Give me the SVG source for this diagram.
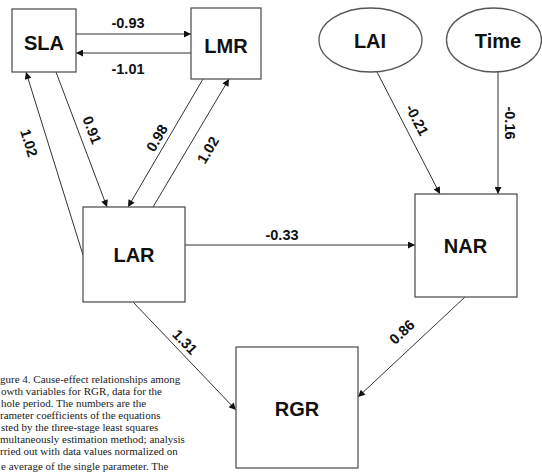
<svg xmlns="http://www.w3.org/2000/svg" width="542" height="472" viewBox="0 0 542 472">
<style>
.node{fill:#fff;stroke:#555;stroke-width:1.3}
.nl{font-family:"Liberation Sans",Arial,sans-serif;font-weight:bold;font-size:20px;fill:#111;text-anchor:middle}
.el{font-family:"Liberation Sans",Arial,sans-serif;font-weight:bold;font-size:14.5px;fill:#111;text-anchor:middle}
.edge{stroke:#333;stroke-width:1;fill:none;marker-end:url(#ah)}
.cap{font-family:"Liberation Serif","Times New Roman",serif;font-size:11px;fill:#222}
</style>
<defs>
<marker id="ah" viewBox="0 0 10 10" refX="10" refY="5" markerWidth="9" markerHeight="7" markerUnits="userSpaceOnUse" orient="auto">
<path d="M0,0 L10,5 L0,10 z" fill="#111"/>
</marker>
</defs>
<rect width="542" height="472" fill="#fff"/>
<g id="connectors">
<line class="edge" x1="76" y1="34" x2="191" y2="34"/>
<line class="edge" x1="191" y1="53" x2="76" y2="53"/>
<line class="edge" x1="83" y1="255" x2="26" y2="72"/>
<line class="edge" x1="56" y1="72" x2="107" y2="207"/>
<line class="edge" x1="203" y1="79" x2="128" y2="207"/>
<line class="edge" x1="153" y1="207" x2="229" y2="79"/>
<line class="edge" x1="377" y1="72" x2="440" y2="194"/>
<line class="edge" x1="498" y1="72" x2="498" y2="194"/>
<line class="edge" x1="185" y1="245" x2="415" y2="245"/>
<line class="edge" x1="133" y1="302" x2="236" y2="410"/>
<line class="edge" x1="465" y1="297" x2="358" y2="397"/>
<text class="el" x="128" y="28">-0.93</text>
<text class="el" x="128" y="74">-1.01</text>
<text class="el" x="282" y="240">-0.33</text>
<text class="el" transform="translate(29,143) rotate(72.7)" y="5">1.02</text>
<text class="el" transform="translate(92,130) rotate(69.3)" y="5">0.91</text>
<text class="el" transform="translate(157,138) rotate(-59.6)" y="5">0.98</text>
<text class="el" transform="translate(208,150) rotate(-59.3)" y="5">1.02</text>
<text class="el" transform="translate(417,120) rotate(62.5)" y="5">-0.21</text>
<text class="el" transform="translate(510,123) rotate(90)" y="5">-0.16</text>
<text class="el" transform="translate(185,342) rotate(46)" y="5">1.31</text>
<text class="el" transform="translate(402,332) rotate(-43)" y="5">0.86</text>
</g>
<g id="SLA"><rect class="node" x="12" y="9" width="64" height="63"/><text class="nl" x="44" y="50">SLA</text></g>
<g id="LMR"><rect class="node" x="191" y="8" width="70" height="71"/><text class="nl" x="226" y="53">LMR</text></g>
<g id="LAI"><ellipse class="node" cx="370.5" cy="40" rx="51.5" ry="32"/><text class="nl" x="370" y="48">LAI</text></g>
<g id="Time"><ellipse class="node" cx="494" cy="40" rx="47.5" ry="32"/><text class="nl" x="498" y="48">Time</text></g>
<g id="LAR"><rect class="node" x="83" y="207" width="102" height="95"/><text class="nl" x="134" y="262">LAR</text></g>
<g id="NAR"><rect class="node" x="415" y="194" width="102" height="103"/><text class="nl" x="465.5" y="253">NAR</text></g>
<g id="RGR"><rect class="node" x="236" y="347" width="122" height="121"/><text class="nl" x="297" y="416">RGR</text></g>
<g id="caption">
<text class="cap" x="0" y="383">gure 4. Cause-effect relationships among</text>
<text class="cap" x="1" y="395">owth variables for RGR, data for the</text>
<text class="cap" x="1" y="407">hole period. The numbers are the</text>
<text class="cap" x="0" y="419">rameter coefficients of the equations</text>
<text class="cap" x="1" y="431">sted by the three-stage least squares</text>
<text class="cap" x="0" y="443">multaneously estimation method; analysis</text>
<text class="cap" x="0" y="455">rried out with data values normalized on</text>
<text class="cap" x="1" y="470">e average of the single parameter. The</text>
</g>
</svg>
